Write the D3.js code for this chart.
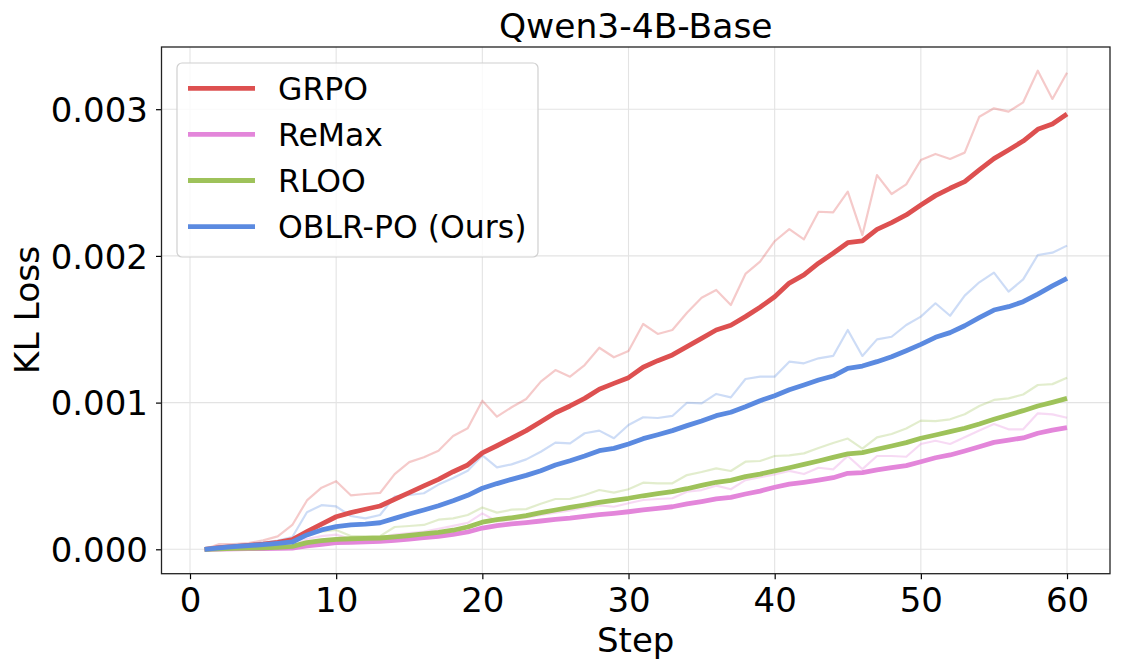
<!DOCTYPE html>
<html>
<head>
<meta charset="utf-8">
<script src="https://cdn.jsdelivr.net/npm/d3@7"></script>
<style>
  html, body { margin: 0; padding: 0; background: #fff; }
  svg { display: block; font-family: "DejaVu Sans", sans-serif; }
</style>
</head>
<body>
<svg id="chart" width="1122" height="670"></svg>
<script>
// ---- data (KL loss values in units of 1e-3) ----
const steps = d3.range(1, 61);
const seriesNames = ["GRPO", "ReMax", "RLOO", "OBLR-PO (Ours)"];

const grpoRaw = [0,0.036,0.036,0.043,0.061,0.088,0.166,0.333,0.42,0.464,0.368,0.377,0.384,0.512,0.594,0.627,0.672,0.772,0.825,1.013,0.904,0.968,1.025,1.143,1.222,1.177,1.256,1.374,1.309,1.352,1.536,1.468,1.495,1.613,1.715,1.768,1.665,1.877,1.961,2.10,2.183,2.113,2.301,2.297,2.438,2.142,2.551,2.422,2.488,2.654,2.695,2.661,2.704,2.949,3.006,2.983,3.047,3.262,3.070,3.249];
const grpoSmooth = [0,0.011,0.018,0.027,0.036,0.048,0.066,0.12,0.172,0.222,0.25,0.273,0.295,0.341,0.386,0.432,0.477,0.529,0.575,0.657,0.706,0.757,0.809,0.870,0.931,0.977,1.029,1.091,1.131,1.170,1.241,1.286,1.325,1.381,1.438,1.495,1.527,1.586,1.650,1.722,1.815,1.870,1.950,2.018,2.090,2.102,2.181,2.227,2.279,2.347,2.411,2.461,2.506,2.586,2.663,2.722,2.783,2.863,2.899,2.967];

const remaxRaw = [0,0.005,0.005,0.006,0.008,0.01,0.02,0.07,0.09,0.1,0.07,0.075,0.08,0.1,0.11,0.12,0.14,0.16,0.18,0.245,0.19,0.2,0.215,0.235,0.25,0.265,0.285,0.30,0.29,0.314,0.336,0.343,0.348,0.393,0.404,0.434,0.409,0.472,0.491,0.51,0.535,0.513,0.556,0.545,0.636,0.547,0.636,0.636,0.631,0.718,0.740,0.718,0.763,0.809,0.854,0.818,0.818,0.927,0.920,0.897];
const remaxSmooth = [0,0.002,0.003,0.004,0.005,0.006,0.008,0.023,0.034,0.045,0.048,0.05,0.054,0.061,0.07,0.079,0.089,0.101,0.118,0.145,0.162,0.173,0.182,0.193,0.204,0.213,0.225,0.236,0.245,0.256,0.268,0.279,0.290,0.309,0.325,0.343,0.354,0.377,0.397,0.423,0.444,0.457,0.472,0.488,0.518,0.522,0.541,0.556,0.570,0.597,0.624,0.643,0.670,0.699,0.729,0.745,0.759,0.791,0.813,0.829];

const rlooRaw = [0,0.008,0.01,0.014,0.02,0.03,0.05,0.1,0.12,0.132,0.09,0.09,0.09,0.152,0.159,0.166,0.202,0.211,0.234,0.285,0.25,0.27,0.274,0.311,0.343,0.344,0.37,0.404,0.386,0.409,0.454,0.450,0.450,0.506,0.527,0.552,0.534,0.597,0.602,0.636,0.640,0.654,0.690,0.725,0.755,0.686,0.763,0.786,0.823,0.877,0.874,0.886,0.921,0.977,1.018,1.029,1.055,1.120,1.126,1.170];
const rlooSmooth = [0,0.003,0.006,0.008,0.01,0.014,0.02,0.045,0.059,0.068,0.072,0.074,0.077,0.085,0.094,0.105,0.116,0.13,0.152,0.185,0.202,0.215,0.229,0.250,0.268,0.286,0.302,0.320,0.334,0.348,0.365,0.379,0.393,0.413,0.436,0.457,0.470,0.495,0.513,0.535,0.556,0.579,0.602,0.627,0.650,0.659,0.682,0.704,0.727,0.757,0.779,0.802,0.825,0.854,0.886,0.916,0.945,0.977,1.002,1.029];

const oblrRaw = [0,0.02,0.03,0.035,0.045,0.06,0.084,0.253,0.301,0.292,0.227,0.211,0.234,0.359,0.37,0.382,0.441,0.486,0.535,0.64,0.559,0.579,0.613,0.665,0.727,0.722,0.791,0.809,0.757,0.847,0.900,0.895,0.909,0.999,0.995,1.059,1.036,1.161,1.177,1.177,1.279,1.268,1.302,1.318,1.495,1.318,1.431,1.449,1.529,1.586,1.677,1.592,1.729,1.820,1.886,1.756,1.840,2.006,2.022,2.070];
const oblrSmooth = [0,0.01,0.018,0.025,0.032,0.04,0.05,0.098,0.132,0.154,0.166,0.172,0.181,0.211,0.241,0.268,0.297,0.331,0.368,0.416,0.448,0.477,0.504,0.536,0.575,0.604,0.636,0.672,0.688,0.718,0.754,0.781,0.809,0.843,0.875,0.911,0.934,0.972,1.013,1.047,1.088,1.120,1.154,1.181,1.234,1.249,1.279,1.313,1.354,1.397,1.445,1.477,1.524,1.579,1.631,1.654,1.688,1.740,1.795,1.847];

const xTicks = [0, 10, 20, 30, 40, 50, 60];
const yTicks = [0, 1, 2, 3];
const yTickLabels = ["0.000", "0.001", "0.002", "0.003"];

// ---- styling ----
const colors = ["#DD5050", "#E386DA", "#9EC25A", "#5B8AE0"];
const rawSets = [grpoRaw, remaxRaw, rlooRaw, oblrRaw];
const smoothSets = [grpoSmooth, remaxSmooth, rlooSmooth, oblrSmooth];

const svg = d3.select("#chart");
const W = 1122, H = 670;
const plot = { left: 161.5, right: 1110, top: 47, bottom: 573.7 };

const x = d3.scaleLinear().domain([-1.95, 62.94]).range([plot.left, plot.right]);
const y = d3.scaleLinear().domain([-0.1663, 3.424]).range([plot.bottom, plot.top]);

svg.append("rect").attr("width", W).attr("height", H).attr("fill", "#fff");

// grid
const grid = svg.append("g");
grid.selectAll(".gx").data(xTicks).join("line")
  .attr("x1", d => x(d)).attr("x2", d => x(d))
  .attr("y1", plot.top).attr("y2", plot.bottom)
  .attr("stroke", "#e3e3e3").attr("stroke-width", 1.1);
grid.selectAll(".gy").data(yTicks).join("line")
  .attr("x1", plot.left).attr("x2", plot.right)
  .attr("y1", d => y(d)).attr("y2", d => y(d))
  .attr("stroke", "#e3e3e3").attr("stroke-width", 1.1);

// lines
svg.append("clipPath").attr("id", "clip").append("rect")
  .attr("x", plot.left).attr("y", plot.top)
  .attr("width", plot.right - plot.left).attr("height", plot.bottom - plot.top);

const line = d3.line().x((d, i) => x(steps[i])).y(d => y(d));
const lines = svg.append("g").attr("clip-path", "url(#clip)");
seriesNames.forEach((name, k) => {
  lines.append("path").datum(rawSets[k])
    .attr("d", line).attr("fill", "none")
    .attr("stroke", colors[k]).attr("stroke-opacity", 0.3)
    .attr("stroke-width", 2.2).attr("stroke-linejoin", "round");
});
seriesNames.forEach((name, k) => {
  lines.append("path").datum(smoothSets[k])
    .attr("d", line).attr("fill", "none")
    .attr("stroke", colors[k]).attr("stroke-width", 4.8)
    .attr("stroke-linejoin", "round").attr("stroke-linecap", "butt");
});

// axes
const xAxis = d3.axisBottom(x).tickValues(xTicks).tickSize(5.5).tickPadding(6).tickFormat(d3.format("d"));
const yAxis = d3.axisLeft(y).tickValues(yTicks).tickSize(5.5).tickPadding(8).tickFormat((d, i) => yTickLabels[i]);

const gx = svg.append("g").attr("transform", `translate(0,${plot.bottom})`).call(xAxis);
const gy = svg.append("g").attr("transform", `translate(${plot.left},0)`).call(yAxis);
[gx, gy].forEach(g => {
  g.select(".domain").remove();
  g.selectAll(".tick line").attr("stroke", "#000").attr("stroke-width", 1.2);
  g.selectAll(".tick text").attr("fill", "#000")
    .style("font-family", "'DejaVu Sans', sans-serif").style("font-size", "34px");
});
gx.selectAll(".tick text").attr("y", 0).attr("dy", 0)
  .attr("transform", `translate(0,${612 - plot.bottom})`);
gy.selectAll(".tick text").attr("dy", "0.36em");

// frame
svg.append("rect")
  .attr("x", plot.left).attr("y", plot.top)
  .attr("width", plot.right - plot.left).attr("height", plot.bottom - plot.top)
  .attr("fill", "none").attr("stroke", "#222").attr("stroke-width", 1.3);

// titles
svg.append("text").attr("x", (plot.left + plot.right) / 2).attr("y", 37.5)
  .attr("text-anchor", "middle").style("font-size", "34.5px").text("Qwen3-4B-Base");
svg.append("text").attr("x", (plot.left + plot.right) / 2).attr("y", 652)
  .attr("text-anchor", "middle").style("font-size", "34px").text("Step");
svg.append("text")
  .attr("transform", `translate(38.5,310) rotate(-90)`)
  .attr("text-anchor", "middle").style("font-size", "34.5px").text("KL Loss");

// legend
const lg = svg.append("g");
lg.append("rect").attr("x", 177).attr("y", 63).attr("width", 361).attr("height", 194)
  .attr("rx", 5).attr("fill", "#fff").attr("fill-opacity", 0.8)
  .attr("stroke", "#d0d0d0").attr("stroke-width", 1.2);
seriesNames.forEach((name, k) => {
  const cy = 88.3 + k * 46.1;
  lg.append("line").attr("x1", 188).attr("x2", 255).attr("y1", cy).attr("y2", cy)
    .attr("stroke", colors[k]).attr("stroke-width", 4.8);
  lg.append("text").attr("x", 278).attr("y", cy).attr("dy", "0.36em")
    .style("font-size", "31.5px").text(name);
});
</script>
</body>
</html>
